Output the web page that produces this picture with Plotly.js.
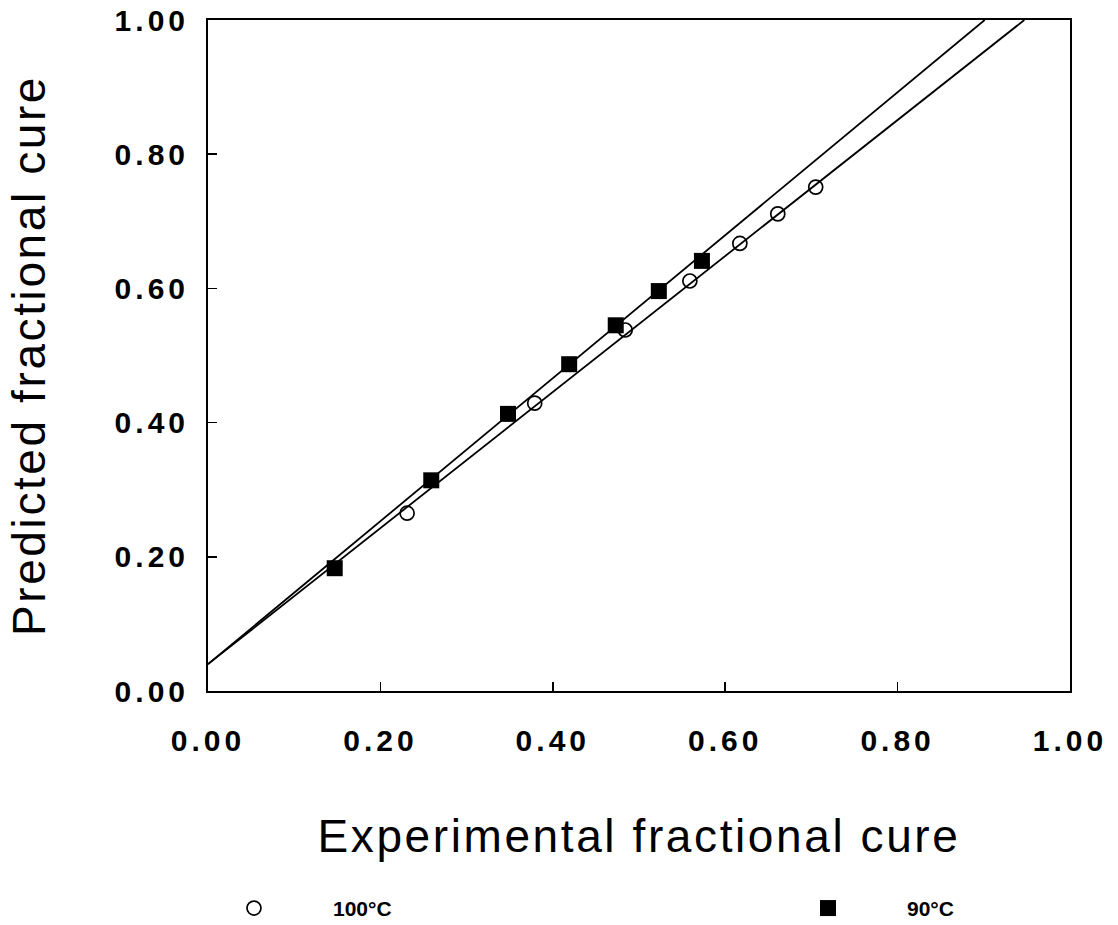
<!DOCTYPE html>
<html>
<head>
<meta charset="utf-8">
<script src="https://cdn.plot.ly/plotly-3.0.1.min.js"></script>
<style>
  html, body { margin: 0; padding: 0; background: #fff; }
  #chart { width: 1118px; height: 925px; }
  .xtitle, .ytitle { letter-spacing: 2.6px; }
  .xtick text, .ytick text { letter-spacing: 4px; }
</style>
</head>
<body>
<div id="chart"></div>
<script>
// 100 °C series (open circles)
const exp100 = [0.231, 0.379, 0.484, 0.559, 0.617, 0.661, 0.705];
const pred100 = [0.265, 0.429, 0.538, 0.611, 0.667, 0.711, 0.751];
// 90 °C series (filled squares)
const exp90 = [0.147, 0.259, 0.348, 0.419, 0.473, 0.523, 0.573];
const pred90 = [0.183, 0.314, 0.413, 0.487, 0.545, 0.596, 0.641];
// fitted lines (end points)
const fit100X = [0.0, 0.947];
const fit100Y = [0.040, 1.0];
const fit90X = [0.0, 0.901];
const fit90Y = [0.040, 1.0];
// tick labels
const tickVals = [0, 0.2, 0.4, 0.6, 0.8, 1.0];
const tickText = ['0.00', '0.20', '0.40', '0.60', '0.80', '1.00'];
const seriesNames = ['100\u00B0C', '90\u00B0C'];

const traces = [
  { x: fit100X, y: fit100Y, mode: 'lines', line: { color: '#000', width: 1.8 }, showlegend: false, hoverinfo: 'skip' },
  { x: fit90X, y: fit90Y, mode: 'lines', line: { color: '#000', width: 1.8 }, showlegend: false, hoverinfo: 'skip' },
  { x: exp100, y: pred100, mode: 'markers', name: seriesNames[0], legend: 'legend',
    marker: { symbol: 'circle-open', size: 14, color: '#000', line: { color: '#000', width: 1.7 } } },
  { x: exp90, y: pred90, mode: 'markers', name: seriesNames[1], legend: 'legend2',
    marker: { symbol: 'square', size: 16, color: '#000', line: { width: 0 } } }
];

const tickFont = { family: 'Liberation Sans, Arial, sans-serif', size: 30, color: '#000', weight: 'bold' };
const titleFont = { family: 'Liberation Sans, Arial, sans-serif', size: 46, color: '#000' };
const legendFont = { family: 'Liberation Sans, Arial, sans-serif', size: 21, color: '#000', weight: 'bold' };

const layout = {
  width: 1118, height: 925,
  paper_bgcolor: '#fff', plot_bgcolor: '#fff',
  margin: { l: 208, r: 48, t: 20, b: 234, autoexpand: false },
  xaxis: {
    range: [0, 1], tickvals: tickVals, ticktext: tickText,
    showgrid: false, zeroline: false, automargin: false,
    showline: true, mirror: true, linecolor: '#000', linewidth: 2,
    ticks: 'inside', ticklen: 9, tickwidth: 1.5, tickcolor: '#000',
    ticklabelstandoff: 22,
    tickfont: tickFont,
    title: { text: 'Experimental fractional cure', font: titleFont, standoff: 64 }
  },
  yaxis: {
    range: [0, 1], tickvals: tickVals, ticktext: tickText,
    showgrid: false, zeroline: false, automargin: false,
    showline: true, mirror: true, linecolor: '#000', linewidth: 2,
    ticks: 'inside', ticklen: 9, tickwidth: 1.5, tickcolor: '#000',
    ticklabelstandoff: 11,
    tickfont: tickFont,
    title: { text: 'Predicted fractional cure', font: titleFont, standoff: 55 }
  },
  legend: {
    x: -0.0383, y: -0.324, xanchor: 'left', yanchor: 'middle',
    orientation: 'h', itemwidth: 148, font: legendFont, bgcolor: 'rgba(0,0,0,0)'
  },
  legend2: {
    x: 0.6276, y: -0.324, xanchor: 'left', yanchor: 'middle',
    orientation: 'h', itemwidth: 148, font: legendFont, bgcolor: 'rgba(0,0,0,0)'
  },
  showlegend: true
};

Plotly.newPlot('chart', traces, layout, { staticPlot: true, displayModeBar: false });
</script>
</body>
</html>
